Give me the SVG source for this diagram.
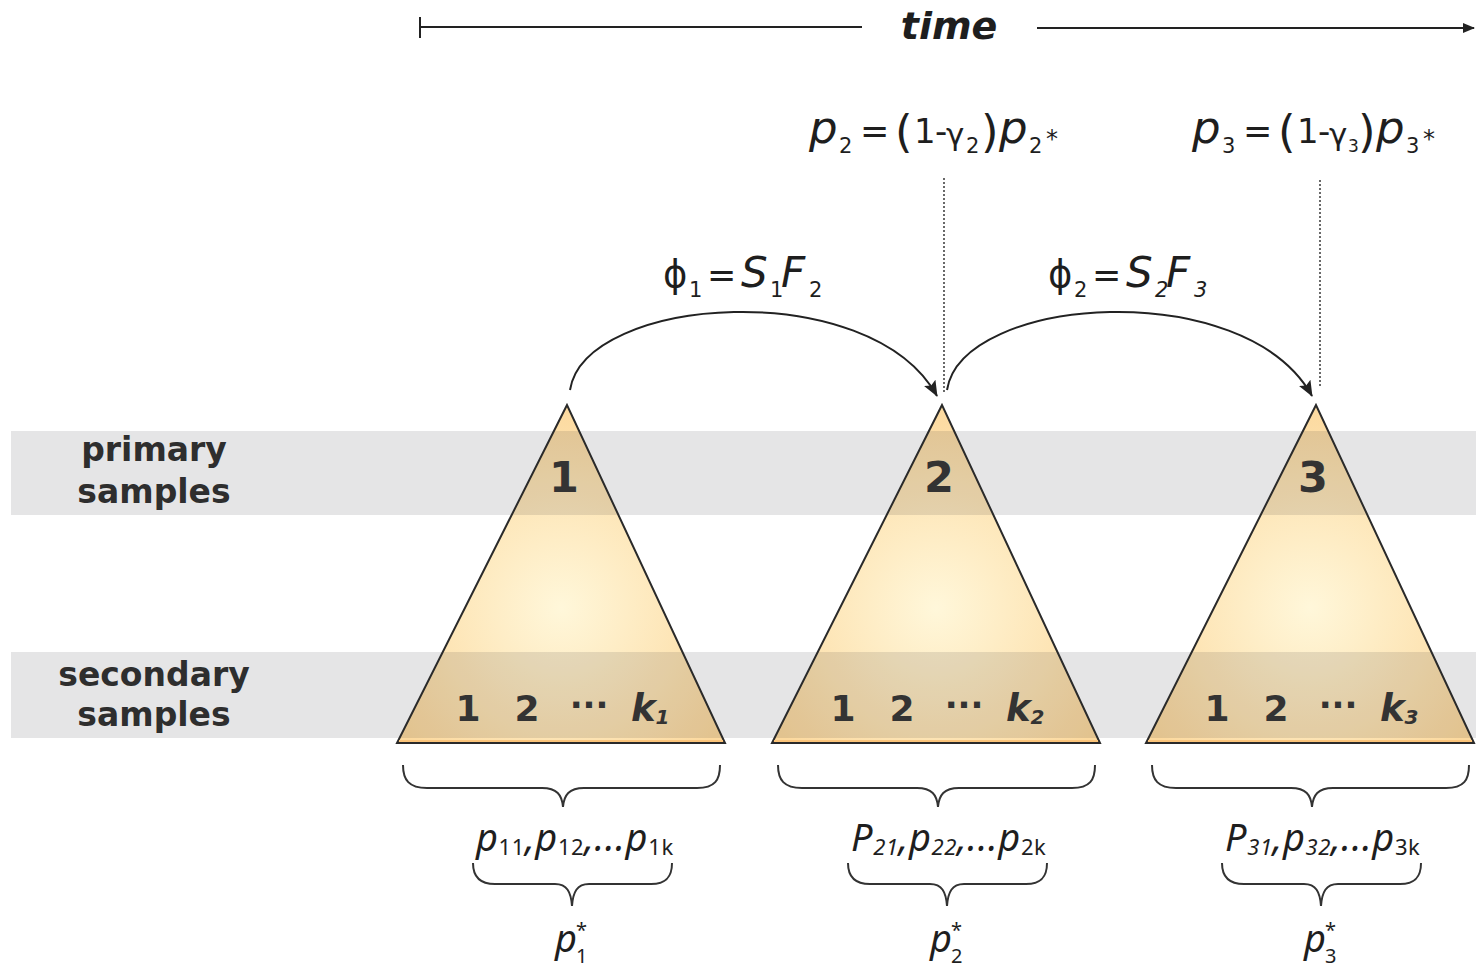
<svg xmlns="http://www.w3.org/2000/svg" width="1476" height="967" viewBox="0 0 1476 967">
<style>
.lbl{font-family:"DejaVu Sans",Verdana,sans-serif;font-weight:bold;font-size:33px;fill:#2e2e2e;text-anchor:middle}
.num{font-family:"DejaVu Sans",Verdana,sans-serif;font-weight:bold;fill:#333;text-anchor:middle}
.kk{font-family:"DejaVu Sans",Verdana,sans-serif;font-weight:bold;font-style:italic;fill:#333;text-anchor:start}
.f{font-family:"DejaVu Sans",Verdana,sans-serif;fill:#1e1e1e}
.it{font-style:italic}
.up{font-style:normal}
.bl{font-family:"Noto Sans","Open Sans",sans-serif;fill:#1e1e1e}
.tri{stroke:#2a2a2a;stroke-width:2;stroke-linejoin:miter}
.brace{fill:none;stroke:#333;stroke-width:2}
.conn{fill:none;stroke:#222;stroke-width:2}
.dot{fill:none;stroke:#444;stroke-width:1.6;stroke-dasharray:2 2}
</style>
<defs>
<radialGradient id="g" cx="0.5" cy="0.6" r="0.6">
<stop offset="0" stop-color="#fff7da"/>
<stop offset="1" stop-color="#fcd99e"/>
</radialGradient>
<marker id="ah" viewBox="0 0 12 10" refX="11" refY="5" markerWidth="12" markerHeight="10" markerUnits="userSpaceOnUse" orient="auto">
<path d="M0,0 L12,5 L0,10 Z" fill="#222"/>
</marker>
<marker id="ah2" viewBox="0 0 16 13" refX="15" refY="6.5" markerWidth="16" markerHeight="13" markerUnits="userSpaceOnUse" orient="auto">
<path d="M0,0 L16,6.5 L0,13 L3,6.5 Z" fill="#222"/>
</marker>
</defs>
<rect width="1476" height="967" fill="#fff"/>

<!-- triangle fills -->
<g id="tri-fills">
<polygon points="567,405 397,743 725,743" fill="url(#g)"/>
<polygon points="942,405 772,743 1100,743" fill="url(#g)"/>
<polygon points="1316,405 1146,743 1474,743" fill="url(#g)"/>
</g>

<!-- bands -->
<g id="bands">
<rect x="11" y="431" width="1465" height="84" fill="#10101a" fill-opacity="0.11"/>
<rect x="11" y="652" width="1465" height="86" fill="#10101a" fill-opacity="0.11"/>
</g>

<g id="band-labels">
<text class="lbl" x="154" y="461">primary</text>
<text class="lbl" x="154" y="503">samples</text>
<text class="lbl" x="154" y="686">secondary</text>
<text class="lbl" x="154" y="726">samples</text>
</g>

<!-- time axis -->
<g id="time-axis">
<path d="M420,17 V38 M420,27 H862" class="conn" stroke="#333"/>
<path d="M1037,28 H1474" class="conn" stroke="#333" marker-end="url(#ah)"/>
<text x="949" y="39" text-anchor="middle" style="font-family:'DejaVu Sans',Verdana,sans-serif;font-weight:bold;font-style:italic;font-size:38px;fill:#1e1e1e">time</text>
</g>

<!-- triangle nodes -->
<g id="node1" transform="translate(567,0)">
<polygon class="tri" points="0,405 -170,743 158,743" fill="none"/>
<line x1="-168" y1="741" x2="156" y2="741" stroke="#fbc47a" stroke-width="2"/>
<text class="num" x="-3" y="492" font-size="43">1</text>
<text class="num" x="-99" y="721" font-size="36">1</text>
<text class="num" x="-40" y="721" font-size="36">2</text>
<text class="num" x="22" y="717" font-size="34">···</text>
<text class="kk" x="64" y="721" font-size="37">k<tspan font-size="20" dy="3">1</tspan></text>
</g>
<g id="node2" transform="translate(942,0)">
<polygon class="tri" points="0,405 -170,743 158,743" fill="none"/>
<line x1="-168" y1="741" x2="156" y2="741" stroke="#fbc47a" stroke-width="2"/>
<text class="num" x="-3" y="492" font-size="43">2</text>
<text class="num" x="-99" y="721" font-size="36">1</text>
<text class="num" x="-40" y="721" font-size="36">2</text>
<text class="num" x="22" y="717" font-size="34">···</text>
<text class="kk" x="64" y="721" font-size="37">k<tspan font-size="20" dy="3">2</tspan></text>
</g>
<g id="node3" transform="translate(1316,0)">
<polygon class="tri" points="0,405 -170,743 158,743" fill="none"/>
<line x1="-168" y1="741" x2="156" y2="741" stroke="#fbc47a" stroke-width="2"/>
<text class="num" x="-3" y="492" font-size="43">3</text>
<text class="num" x="-99" y="721" font-size="36">1</text>
<text class="num" x="-40" y="721" font-size="36">2</text>
<text class="num" x="22" y="717" font-size="34">···</text>
<text class="kk" x="64" y="721" font-size="37">k<tspan font-size="20" dy="3">3</tspan></text>
</g>

<!-- connectors -->
<g id="connectors">
<path class="conn" d="M570,390 C585,295 870,275 937,396" marker-end="url(#ah2)"/>
<path class="conn" d="M947,390 C962,295 1245,275 1312,396" marker-end="url(#ah2)"/>
<line class="dot" x1="944" y1="178" x2="944" y2="394"/>
<line class="dot" x1="1320" y1="180" x2="1320" y2="386"/>
</g>

<!-- formulas -->
<g id="formula-p2" class="f">
<text y="143"><tspan class="it" x="809" font-size="45">p</tspan><tspan x="839" y="153" font-size="21">2</tspan><tspan x="860" y="143" font-size="35">=</tspan><tspan x="895" y="147" font-size="45">(</tspan><tspan x="914" y="143" font-size="34">1</tspan><tspan x="935" y="143" font-size="34">-</tspan><tspan x="946" y="145" font-size="31">γ</tspan><tspan x="966" y="153" font-size="21">2</tspan><tspan x="981" y="147" font-size="45">)</tspan><tspan class="it" x="999" y="143" font-size="45">p</tspan><tspan x="1029" y="153" font-size="21">2</tspan><tspan x="1046" y="147" font-size="24">*</tspan></text>
</g>
<g id="formula-p3" class="f" transform="translate(383,0)">
<text y="143"><tspan class="it" x="809" font-size="45">p</tspan><tspan x="839" y="153" font-size="21">3</tspan><tspan x="860" y="143" font-size="35">=</tspan><tspan x="895" y="147" font-size="45">(</tspan><tspan x="914" y="143" font-size="34">1</tspan><tspan x="935" y="143" font-size="34">-</tspan><tspan x="946" y="145" font-size="31">γ</tspan><tspan x="965" y="152" font-size="17">3</tspan><tspan x="975" y="147" font-size="45">)</tspan><tspan class="it" x="993" y="143" font-size="45">p</tspan><tspan x="1023" y="153" font-size="21">3</tspan><tspan x="1040" y="147" font-size="24">*</tspan></text>
</g>
<g id="label-phi1" class="f">
<text y="287"><tspan x="663" font-size="37">ϕ</tspan><tspan x="689" y="297" font-size="21">1</tspan><tspan x="707" y="287" font-size="35">=</tspan><tspan class="it" x="741" font-size="42">S</tspan><tspan x="770" y="297" font-size="21">1</tspan><tspan class="it" x="781" y="287" font-size="42">F</tspan><tspan x="809" y="297" font-size="21">2</tspan></text>
</g>
<g id="label-phi2" class="f" transform="translate(385,0)">
<text y="287"><tspan x="663" font-size="37">ϕ</tspan><tspan x="689" y="297" font-size="21">2</tspan><tspan x="707" y="287" font-size="35">=</tspan><tspan class="it" x="741" font-size="42">S</tspan><tspan class="it" x="770" y="297" font-size="21">2</tspan><tspan class="it" x="781" y="287" font-size="42">F</tspan><tspan class="it" x="809" y="297" font-size="21">3</tspan></text>
</g>

<!-- braces and estimates -->
<g id="est1" transform="translate(567,0)">
<path class="brace" d="M-164,765 C-164,780 -158,788 -140,788 L-25,788 C-10,788 -5,795 -4,807 C-3,795 2,788 17,788 L130,788 C148,788 153,780 153,765"/>
<text class="bl it" x="-91" y="851" font-size="38" letter-spacing="0.6">p<tspan class="up" font-size="22" dy="4">11</tspan><tspan dy="-4">,p</tspan><tspan class="up" font-size="22" dy="4">12</tspan><tspan dy="-4">,...p</tspan><tspan class="up" font-size="22" dy="4">1k</tspan></text>
<path class="brace" d="M-94,863 C-94,876 -88,884 -72,884 L-12,884 C0,884 4,892 5,906 C6,892 10,884 22,884 L84,884 C100,884 105,876 105,863"/>
<text class="bl it" x="-12" y="952" font-size="38">p</text>
<text class="bl" x="9" y="937" font-size="20">*</text>
<text class="bl" x="9" y="963" font-size="20">1</text>
</g>
<g id="est2" transform="translate(942,0)">
<path class="brace" d="M-164,765 C-164,780 -158,788 -140,788 L-25,788 C-10,788 -5,795 -4,807 C-3,795 2,788 17,788 L130,788 C148,788 153,780 153,765"/>
<text class="bl it" x="-91" y="851" font-size="38" letter-spacing="0.6">P<tspan font-size="22" dy="4">21</tspan><tspan dy="-4">,p</tspan><tspan font-size="22" dy="4">22</tspan><tspan dy="-4">,...p</tspan><tspan class="up" font-size="22" dy="4">2k</tspan></text>
<path class="brace" d="M-94,863 C-94,876 -88,884 -72,884 L-12,884 C0,884 4,892 5,906 C6,892 10,884 22,884 L84,884 C100,884 105,876 105,863"/>
<text class="bl it" x="-12" y="952" font-size="38">p</text>
<text class="bl" x="9" y="937" font-size="20">*</text>
<text class="bl" x="9" y="963" font-size="20">2</text>
</g>
<g id="est3" transform="translate(1316,0)">
<path class="brace" d="M-164,765 C-164,780 -158,788 -140,788 L-25,788 C-10,788 -5,795 -4,807 C-3,795 2,788 17,788 L130,788 C148,788 153,780 153,765"/>
<text class="bl it" x="-91" y="851" font-size="38" letter-spacing="0.6">P<tspan font-size="22" dy="4">31</tspan><tspan dy="-4">,p</tspan><tspan font-size="22" dy="4">32</tspan><tspan dy="-4">,...p</tspan><tspan class="up" font-size="22" dy="4">3k</tspan></text>
<path class="brace" d="M-94,863 C-94,876 -88,884 -72,884 L-12,884 C0,884 4,892 5,906 C6,892 10,884 22,884 L84,884 C100,884 105,876 105,863"/>
<text class="bl it" x="-12" y="952" font-size="38">p</text>
<text class="bl" x="9" y="937" font-size="20">*</text>
<text class="bl" x="9" y="963" font-size="20">3</text>
</g>
</svg>
